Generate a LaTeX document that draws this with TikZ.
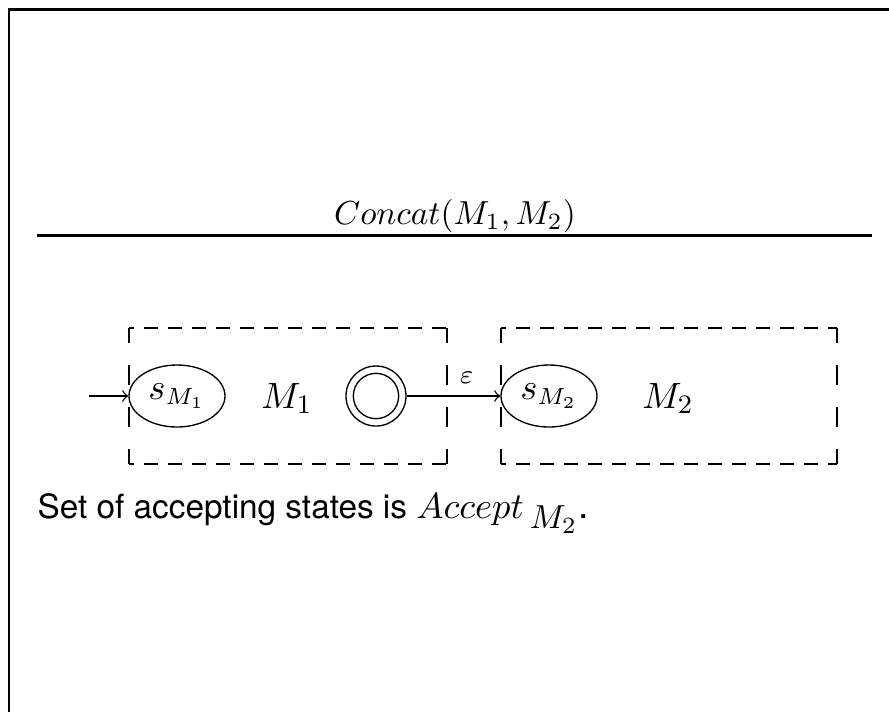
\documentclass[tikz,border=0pt]{standalone}
\usepackage{fontspec}
\setsansfont{TeX Gyre Heros}
\usetikzlibrary{shapes.geometric}
\tikzset{
  heavy/.style={line width=0.9pt},
  statebox/.style={ellipse, draw, line width=0.4pt, minimum width=28.8pt,
    minimum height=18.6pt, inner sep=0pt},
  ring/.style={circle, draw, line width=0.4pt, inner sep=0pt},
  hdash/.style={line width=0.4pt, dash pattern=on 4.2pt off 3pt, dash phase=2.7pt},
  vdash/.style={line width=0.4pt, dash pattern=on 6pt off 6.6pt, dash phase=1.5pt},
  trans/.style={->, line width=0.4pt},
  lbl/.style={inner sep=0pt, anchor=base},
}
\begin{document}
\begin{tikzpicture}[x=0.3pt, y=-0.3pt]
  \useasboundingbox (0,0) rectangle (889,711);

  % outer frame (top and left edges) and title rule
  \draw[heavy, line cap=rect] (9,711) -- (9,9.5) -- (889,9.5);
  \coordinate (rl) at (37,235);
  \coordinate (rr) at (872,235);
  \draw[heavy] (rl) -- (rr);
  \node[lbl] (title) at (455,224) {\fontsize{10.3}{12}\selectfont$Concat(M_1, M_2)$};

  % dashed frames of the two machines
  \coordinate (aNW) at (129,328); \coordinate (aNE) at (447,328);
  \coordinate (aSW) at (129,464); \coordinate (aSE) at (447,464);
  \coordinate (bNW) at (501,328); \coordinate (bNE) at (837,328);
  \coordinate (bSW) at (501,464); \coordinate (bSE) at (837,464);
  \draw[hdash] (aNW) -- (aNE);
  \draw[hdash] (aSW) -- (aSE);
  \draw[vdash] (aNW) -- (aSW);
  \draw[vdash] (aNE) -- (aSE);
  \draw[hdash] (bNW) -- (bNE);
  \draw[hdash] (bSW) -- (bSE);
  \draw[vdash] (bNW) -- (bSW);
  \draw[vdash] (bNE) -- (bSE);

  % states
  \node[statebox] (s1) at (177,396) {\fontsize{10.5}{12}\selectfont$s_{M_1}$};
  \node[statebox] (s2) at (549,396) {\fontsize{10.5}{12}\selectfont$s_{M_2}$};
  \node[ring, minimum size=18pt] (acc) at (376,396) {};
  \node[ring, minimum size=13.6pt] (accin) at (acc) {};

  \node[lbl] (m1) at (287,408) {\fontsize{11}{13}\selectfont$M_1$};
  \node[lbl] (m2) at (668,408) {\fontsize{11}{13}\selectfont$M_2$};

  % transitions
  \coordinate (start) at (89,396);
  \draw[trans] (start) -- (s1.west);
  \draw[trans] (acc.east) -- node[pos=0.64, anchor=south, inner sep=0pt, yshift=3.6pt]
    {\fontsize{8.5}{10}\selectfont$\varepsilon$} (s2.west);

  % caption
  \node[inner sep=0pt, anchor=base west] (note) at (37,518)
    {\fontsize{10}{12}\sffamily Set of accepting states is
     \fontsize{11.2}{13}\selectfont$Accept\,{}_{\mbox{\fontsize{9.6}{11}\selectfont$M_2$}}$.};
\end{tikzpicture}
\end{document}
